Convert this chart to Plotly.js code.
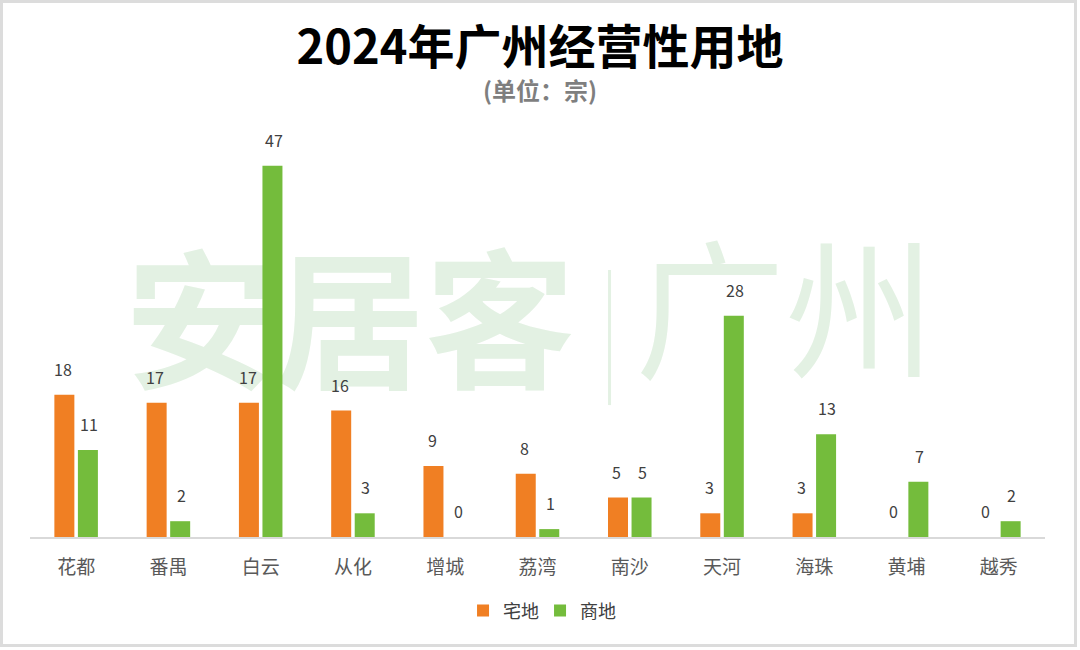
<!DOCTYPE html>
<html>
<head>
<meta charset="utf-8">
<script src="https://cdn.plot.ly/plotly-3.0.1.min.js"></script>
<style>
  html, body { margin: 0; padding: 0; background: #fff; }
  #wrap { position: relative; width: 1080px; height: 650px; }
  #chart { width: 1080px; height: 650px; }
  #frame { position: absolute; left: 0; top: 0; width: 1077px; height: 647px; box-sizing: border-box;
           border: 3px solid #dcdcdc; pointer-events: none; }
</style>
</head>
<body>
<div id="wrap"><div id="chart"></div><div id="frame"></div></div>
<script>
const categories = ['花都', '番禺', '白云', '从化', '增城', '荔湾', '南沙', '天河', '海珠', '黄埔', '越秀'];
const residential = [18, 17, 17, 16, 9, 8, 5, 3, 3, 0, 0];   // 宅地
const commercial  = [11, 2, 47, 3, 0, 1, 5, 28, 13, 7, 2];   // 商地
const seriesNames = ['宅地', '商地'];
const titleText = '2024年广州经营性用地';
const subtitleText = '(单位：宗)';

const ORANGE = '#F07F23';
const GREEN = '#74BC3C';
const WM = '#e3f1e3';
const FONT = '"Noto Sans CJK SC", "Noto Sans", sans-serif';

const traces = [
  { type: 'bar', name: seriesNames[0], x: categories, y: residential, marker: { color: ORANGE }, hoverinfo: 'x+y' },
  { type: 'bar', name: seriesNames[1], x: categories, y: commercial, marker: { color: GREEN }, hoverinfo: 'x+y' }
];

const annotations = [];
categories.forEach((c, i) => {
  annotations.push({ x: c, y: residential[i], xref: 'x', yref: 'y', text: String(residential[i]),
    showarrow: false, xshift: -13, yshift: 26, yanchor: 'middle',
    font: { family: FONT, size: 16, color: '#404040' } });
  annotations.push({ x: c, y: commercial[i], xref: 'x', yref: 'y', text: String(commercial[i]),
    showarrow: false, xshift: 13, yshift: 26, yanchor: 'middle',
    font: { family: FONT, size: 16, color: '#404040' } });
});
annotations.push({ text: '<b>' + subtitleText + '</b>', xref: 'paper', yref: 'paper', x: 0.5025, y: 1.134,
  xanchor: 'center', yanchor: 'middle', showarrow: false,
  font: { family: FONT, size: 24, color: '#7f7f7f' } });

const shapes = [
  { type: 'rect', xref: 'paper', yref: 'paper', x0: 0.0936, x1: 0.537, y0: 0.33, y1: 0.69, layer: 'below',
    line: { width: 0 }, fillcolor: 'rgba(0,0,0,0)',
    label: { text: '<b>安居客</b>', textposition: 'middle center', font: { family: FONT, size: 150, color: WM } } },
  { type: 'line', xref: 'paper', yref: 'paper', x0: 0.571, x1: 0.571, y0: 0.334, y1: 0.676, layer: 'below',
    line: { width: 3, color: WM } },
  { type: 'rect', xref: 'paper', yref: 'paper', x0: 0.611, x1: 0.877, y0: 0.32, y1: 0.75, layer: 'below',
    line: { width: 0 }, fillcolor: 'rgba(0,0,0,0)',
    label: { text: '广州', textposition: 'middle center', font: { family: FONT, size: 150, color: WM } } }
];

const layout = {
  width: 1080, height: 650,
  margin: { l: 30, r: 35, t: 142, b: 113 },
  paper_bgcolor: '#ffffff', plot_bgcolor: '#ffffff',
  font: { family: FONT, color: '#404040' },
  title: { text: '<b>' + titleText + '</b>', xref: 'container', yref: 'container', x: 0.5, y: 1 - 48 / 650,
    xanchor: 'center', yanchor: 'middle', font: { family: FONT, size: 47, color: '#000000' } },
  barmode: 'group', bargap: 0.49, bargroupgap: 0.15,
  xaxis: { type: 'category', showline: true, linecolor: '#d9d9d9', linewidth: 2, showgrid: false,
    ticks: '', ticklabelstandoff: 12, tickfont: { family: FONT, size: 19, color: '#595959' }, zeroline: false },
  yaxis: { range: [0, 50], visible: false, showgrid: false, zeroline: false },
  showlegend: true,
  legend: { orientation: 'h', x: 0.5025, xanchor: 'center', y: -0.187, yanchor: 'middle',
    font: { family: FONT, size: 18, color: '#404040' }, itemwidth: 30, entrywidth: 32, entrywidthmode: 'pixels',
    traceorder: 'normal' },
  annotations: annotations,
  shapes: shapes
};

Plotly.newPlot('chart', traces, layout, { displayModeBar: false, staticPlot: true });
</script>
</body>
</html>
